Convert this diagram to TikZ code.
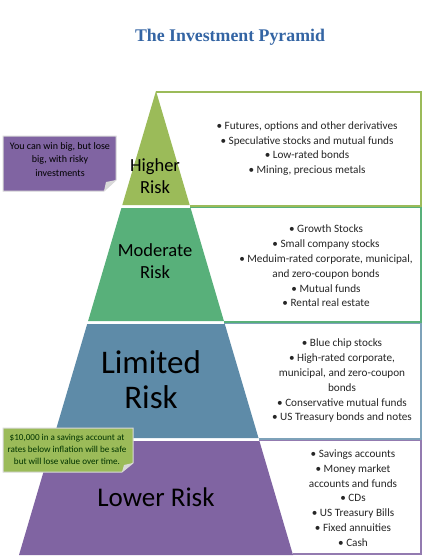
\documentclass[tikz,border=0pt]{standalone}
\usepackage{fontspec}
\setmainfont{Carlito}
\newfontfamily\titlefont{Liberation Serif}
\definecolor{tone}{RGB}{155,187,89}
\definecolor{ttwo}{RGB}{88,176,122}
\definecolor{tthree}{RGB}{94,139,168}
\definecolor{tfour}{RGB}{128,100,162}
\definecolor{titleblue}{RGB}{52,101,164}
\begin{document}
\begin{tikzpicture}[x=1pt,y=-1pt,
  tierlabel/.style={align=center, text=black, inner sep=0pt},
  listtext/.style={align=center, text=black!85, inner sep=0pt, font=\fontsize{11.2}{14.8}\selectfont},
  boxedge/.style={line width=1.6pt},
  calloutfill/.style={draw=white!85!black, line width=1pt}]
\useasboundingbox (0,0) rectangle (425,559);
\fill[white] (0,0) rectangle (425,559);
% title
\node[font=\titlefont\bfseries\fontsize{17.8}{20}\selectfont, text=titleblue] (title) at (230,37) {The Investment Pyramid};
% boxes
\fill[white] (156,92) -- (421,92) -- (421,206) -- (190,206) -- cycle;
\draw[boxedge, draw=tone] (156,92) -- (421,92) -- (421,206) -- (190,206);
\fill[white] (190,207.5) -- (421,207.5) -- (421,322) -- (224,322) -- cycle;
\draw[boxedge, draw=ttwo] (190,207.5) -- (421,207.5) -- (421,322) -- (224,322);
\fill[white] (224,323.5) -- (421,323.5) -- (421,439) -- (259,439) -- cycle;
\draw[boxedge, draw=tthree!80] (224,323.5) -- (421,323.5) -- (421,439) -- (259,439);
\fill[white] (259,440.5) -- (421,440.5) -- (421,554) -- (293,554) -- cycle;
\draw[boxedge, draw=tfour!85] (259,440.5) -- (421,440.5) -- (421,554) -- (293,554);
% pyramid tiers
\fill[tone] (156,91) -- (189.7,205) -- (122.3,205) -- cycle;
\fill[ttwo] (121.4,208) -- (190.6,208) -- (223.9,321) -- (88.1,321) -- cycle;
\fill[tthree] (87.2,324) -- (224.8,324) -- (258.5,438) -- (53.5,438) -- cycle;
\fill[tfour] (52.6,441) -- (259.4,441) -- (293,555) -- (19,555) -- cycle;
% tier labels
\node[tierlabel, font=\fontsize{18.5}{22.5}\selectfont] (t1) at (155,176) {Higher\\Risk};
\node[tierlabel, font=\fontsize{18.5}{22.5}\selectfont] (t2) at (155,261) {Moderate\\Risk};
\node[tierlabel, font=\fontsize{33}{35}\selectfont] (t3) at (151,380) {Limited\\Risk};
\node[tierlabel, font=\fontsize{27}{30}\selectfont] (t4) at (156,497) {Lower Risk};
% lists
\node[listtext] (l1) at (307,148.5) {• Futures, options and other derivatives\\• Speculative stocks and mutual funds\\• Low-rated bonds\\• Mining, precious metals};
\node[listtext] (l2) at (326,266) {• Growth Stocks\\• Small company stocks\\• Meduim-rated corporate, municipal,\\and zero-coupon bonds\\• Mutual funds\\• Rental real estate};
\node[listtext] (l3) at (342,381) {• Blue chip stocks\\• High-rated corporate,\\municipal, and zero-coupon\\bonds\\• Conservative mutual funds\\• US Treasury bonds and notes};
\node[listtext] (l4) at (353,498) {• Savings accounts\\• Money market\\accounts and funds\\• CDs\\• US Treasury Bills\\• Fixed annuities\\• Cash};
% callout 1
\path[fill=tfour, calloutfill] (3,136) -- (116,136) -- (116,180) -- (104,191) -- (3,191) -- cycle;
\fill[white!85!black] (116,180) -- (104,191) -- (106,182) -- cycle;
\node[align=center, inner sep=0pt, text=black, font=\fontsize{10}{13.3}\selectfont] (c1) at (60,159.5) {You can win big, but lose\\big, with risky\\investments};
% callout 2
\path[fill=tone, calloutfill] (3,428) -- (133,428) -- (133,463) -- (122,472) -- (3,472) -- cycle;
\fill[white!85!black] (133,463) -- (122,472) -- (124,465) -- cycle;
\node[align=center, inner sep=0pt, text=black!80!green, font=\fontsize{9.1}{11.8}\selectfont] (c2) at (67,449.5) {\$10,000 in a savings account at\\rates below inflation will be safe\\but will lose value over time.};
\end{tikzpicture}
\end{document}
